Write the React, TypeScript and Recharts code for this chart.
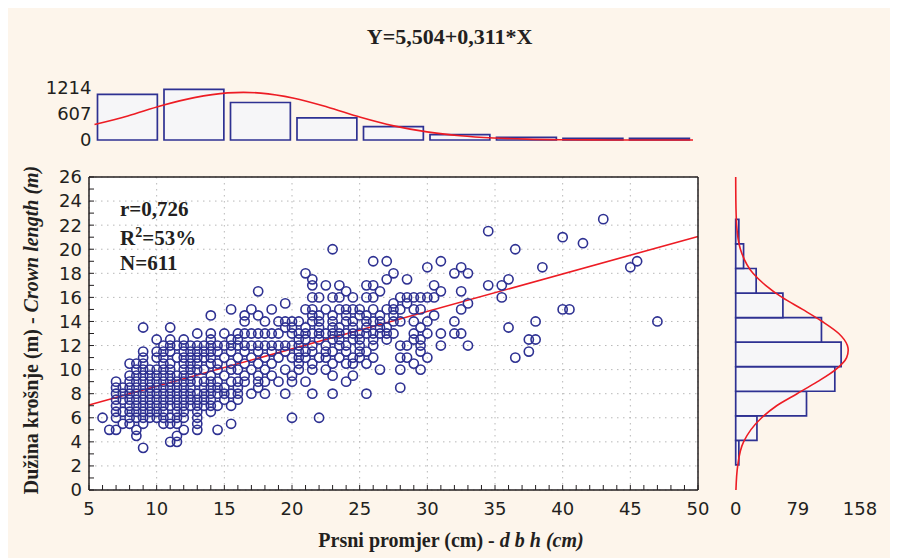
import React from 'react';
import { Bar, CartesianGrid, ComposedChart, Line, Scatter, XAxis, YAxis } from 'recharts';

// scatter: one row per crown length (m), listing the dbh values (cm) seen on that row
const crownRows: [number, number[]][] = [
  [22.5, [43]],
  [21.5, [34.5]],
  [21, [40]],
  [20.5, [41.5]],
  [20, [23, 36.5]],
  [19, [26, 27, 31, 45.5]],
  [18.5, [30, 32.5, 38.5, 45]],
  [18, [21, 27.5, 32, 33]],
  [17.5, [21.5, 27, 28.5, 36]],
  [17, [21.5, 22.5, 23.5, 25.5, 26, 30.5, 34.5, 35.5]],
  [16.5, [17.5, 24, 26.5, 31, 32.5]],
  [16, [21.5, 22, 23, 23.5, 24.5, 25.5, 26, 28, 28.5, 29, 29.5, 30, 30.5, 35.5]],
  [15.5, [19.5, 27.5, 28.5, 33]],
  [15, [15.5, 17, 18.5, 21, 21.5, 22.5, 23.5, 24, 24.5, 25, 26, 27, 27.5, 28, 29, 29.5, 32.5, 40, 40.5]],
  [14.5, [14, 16.5, 17.5, 21.5, 22, 23, 24, 25, 25.5, 26.5, 27.5, 30.5]],
  [14, [16.5, 18, 19, 19.5, 20, 20.5, 21.5, 22, 23, 24, 24.5, 25.5, 26, 26.5, 27.5, 28, 29, 30, 32, 38, 47]],
  [13.5, [9, 11, 19.5, 20, 21, 22, 23, 23.5, 24.5, 25.5, 26.5, 27, 29.5, 36]],
  [13, [13, 14, 15, 16, 16.5, 17, 17.5, 18, 18.5, 19, 20, 20.5, 21, 21.5, 22, 22.5, 23, 23.5, 24, 24.5, 25, 25.5, 26, 26.5, 27, 27.5, 29, 30, 31, 32, 32.5]],
  [12.5, [10, 11, 12, 14, 15.5, 16, 20.5, 21, 22, 23, 23.5, 24.5, 25, 26, 27, 29, 29.5, 37.5, 38]],
  [12, [10.5, 11, 11.5, 12, 12.5, 13, 13.5, 14, 14.5, 15, 15.5, 16, 16.5, 17, 17.5, 18, 18.5, 19, 19.5, 20, 20.5, 21.5, 22.5, 23.5, 24, 25, 26, 28, 28.5, 29.5, 31, 33]],
  [11.5, [9, 10, 10.5, 11, 12, 12.5, 13, 13.5, 14, 14.5, 15.5, 16.5, 17.5, 18.5, 19.5, 20.5, 21, 21.5, 22.5, 23, 24, 25, 25.5, 29.5, 37.5]],
  [11, [9, 10, 10.5, 11.5, 12, 12.5, 13, 13.5, 14, 15, 16, 17, 18, 19, 20, 20.5, 21, 22, 22.5, 23.5, 24.5, 25, 26, 28, 28.5, 30, 36.5]],
  [10.5, [8, 8.5, 9, 10.5, 11, 12, 12.5, 13, 14, 14.5, 15.5, 16.5, 17.5, 18.5, 20.5, 21.5, 23, 24, 24.5, 25.5, 29]],
  [10, [8.5, 9, 9.5, 10, 10.5, 11, 12, 12.5, 13, 13.5, 14.5, 15.5, 16, 17, 18, 19.5, 20.5, 21.5, 22.5, 26.5, 28, 29.5]],
  [9.5, [8, 8.5, 9, 9.5, 10, 10.5, 11, 11.5, 12, 12.5, 14, 15, 16.5, 17.5, 18.5, 20, 23, 24.5]],
  [9, [7, 8, 8.5, 9, 9.5, 10, 10.5, 11, 11.5, 12, 12.5, 13, 13.5, 14, 14.5, 15.5, 16, 16.5, 17.5, 18, 19, 20, 21, 24]],
  [8.5, [7, 7.5, 8, 8.5, 9, 9.5, 10, 10.5, 11, 11.5, 12, 12.5, 13.5, 14, 14.5, 15, 16, 17.5, 28]],
  [8, [7, 7.5, 8, 8.5, 9, 9.5, 10, 10.5, 11, 11.5, 12, 12.5, 13, 13.5, 14, 14.5, 15, 15.5, 16, 17, 18, 19.5, 21.5, 23, 25.5]],
  [7.5, [7, 7.5, 8, 8.5, 9, 9.5, 10, 10.5, 11, 11.5, 12, 12.5, 13, 13.5, 14, 15, 16]],
  [7, [7, 8, 8.5, 9, 9.5, 10, 10.5, 11, 11.5, 12, 12.5, 13, 13.5, 14, 14.5, 15.5]],
  [6.5, [7, 7.5, 8, 8.5, 9, 9.5, 10, 10.5, 11.5, 12, 13, 14]],
  [6, [6, 7, 8, 8.5, 9, 9.5, 10, 10.5, 11, 11.5, 12, 13, 20, 22]],
  [5.5, [7.5, 8, 9, 10.5, 11, 11.5, 13, 15.5]],
  [5, [6.5, 7, 8.5, 12, 13, 14.5]],
  [4.5, [8.5, 11.5]],
  [4, [11, 11.5]],
  [3.5, [9]],
];

// regression line Y = 5,504 + 0,311*X read at the frame edges
const fitX = [5, 50];
const fitY = [7.06, 21.06];

// top histogram (dbh)
const topBinCenters = [7.5, 12.5, 17.5, 22.5, 27.5, 32.5, 37.5, 42.5, 47.5];
const topBinCounts = [1064, 1181, 876, 517, 312, 124, 63, 40, 40];
const topCurveX = [5, 7.5, 10, 12.5, 15, 16.2, 17.5, 20, 22.5, 25, 27.5, 30, 32.5, 35, 37.5, 40, 42.5, 45, 47.5, 50];
const topCurveN = [360, 560, 800, 990, 1100, 1113, 1095, 975, 770, 530, 330, 190, 100, 48, 20, 7, 2, 0, 0, 0];
const topTicks = [0, 607, 1214];

// right histogram (crown length)
const rightBinCenters = [3.1, 5.14, 7.18, 9.22, 11.26, 13.3, 15.34, 17.38, 19.42, 21.46];
const rightBinCounts = [4, 27, 90, 126, 134, 109, 60, 26, 10, 4];
const rightCurveY = [0, 2, 4, 6, 7, 8, 9, 10, 11, 11.6, 12, 13, 14, 15, 16, 17, 18, 20, 22, 24, 26];
const rightCurveN = [0.3, 2.5, 10, 33, 52, 78, 104, 127, 141, 143, 142, 131, 110, 85, 59, 38, 22, 6, 1.2, 0.2, 0];
const rightTicks = [0, 79, 158];

const xMajor = [5, 10, 15, 20, 25, 30, 35, 40, 45, 50];
const yMajor = [0, 2, 4, 6, 8, 10, 12, 14, 16, 18, 20, 22, 24, 26];
const xMinor = Array.from({ length: 46 }, (_, i) => 5 + i);
const yMinor = Array.from({ length: 27 }, (_, i) => i);

const points = crownRows.flatMap(([y, xs]) => xs.map((x) => ({ x, y })));
const fitLine = fitX.map((x, i) => ({ x, y: fitY[i] }));
const topBins = topBinCenters.map((x, i) => ({ x, count: topBinCounts[i] }));
const topCurve = topCurveX.map((x, i) => ({ x, n: topCurveN[i] }));
const rightBins = rightBinCenters.map((y, i) => ({ y, count: rightBinCounts[i] }));
const rightCurve = rightCurveY.map((y, i) => ({ y, n: rightCurveN[i] }));

const navy = '#2e3192';
const red = '#ed1c24';
const frame = '#231f20';
const tickFont = { fontFamily: 'DejaVu Sans', fontSize: 18, fill: '#231f20' };
const serif = 'Liberation Serif, Times New Roman, serif';

const Ring = (p: any) => (
  <circle cx={p.cx} cy={p.cy} r={4.6} fill="none" stroke={navy} strokeWidth={1.6} />
);

const abs: React.CSSProperties = { position: 'absolute', left: 0, top: 0 };

export default function App() {
  return (
    <div style={{ position: 'relative', width: 890, height: 550, background: '#fdf5eb' }}>
      {/* top histogram */}
      <ComposedChart
        width={890}
        height={150}
        data={topBins}
        barCategoryGap={0}
        margin={{ top: 80, right: 205, bottom: 18, left: 0 }}
        style={abs}
      >
        <XAxis xAxisId="bins" dataKey="x" type="number" domain={[5, 50]} ticks={topBinCenters} hide />
        <XAxis xAxisId="curve" dataKey="x" type="number" domain={[5, 50]} hide />
        <YAxis
          type="number"
          domain={[0, 1214]}
          ticks={topTicks}
          interval={0}
          width={86.5}
          axisLine={false}
          tickLine={false}
          tickSize={0}
          tickMargin={3}
          tick={tickFont}
        />
        <Bar xAxisId="bins" dataKey="count" barSize={66.5} fill="#f6f6f8" stroke={navy} strokeWidth={1.7} isAnimationActive={false} />
        <Line xAxisId="curve" data={topCurve} dataKey="n" type="monotone" stroke={red} strokeWidth={1.6} dot={false} isAnimationActive={false} />
      </ComposedChart>

      {/* right histogram */}
      <ComposedChart
        layout="vertical"
        width={890}
        height={550}
        data={rightBins}
        barCategoryGap={0}
        margin={{ top: 169, right: 38, bottom: 0, left: 727.7 }}
        style={abs}
      >
        <XAxis
          type="number"
          domain={[0, 158]}
          ticks={rightTicks}
          interval={0}
          height={68}
          axisLine={false}
          tickLine={false}
          tickSize={0}
          tickMargin={12}
          tick={tickFont}
        />
        <YAxis yAxisId="bins" dataKey="y" type="number" domain={[0, 26]} ticks={rightBinCenters} reversed hide />
        <YAxis yAxisId="curve" dataKey="y" type="number" domain={[0, 26]} reversed hide />
        <Bar yAxisId="bins" dataKey="count" barSize={24.5} fill="#f6f6f8" stroke={navy} strokeWidth={1.7} isAnimationActive={false} />
        <Line yAxisId="curve" data={rightCurve} dataKey="n" type="monotone" stroke={red} strokeWidth={1.6} dot={false} isAnimationActive={false} />
      </ComposedChart>

      {/* main scatter */}
      <ComposedChart width={890} height={550} margin={{ top: 168, right: 199, bottom: 0, left: 0 }} style={abs}>
        <CartesianGrid
          xAxisId="b"
          yAxisId="l"
          fill="#ffffff"
          stroke="#b8b8b8"
          strokeDasharray="1.5 4.5"
          horizontalValues={yMajor}
          verticalValues={xMajor}
        />
        <XAxis
          xAxisId="b"
          dataKey="x"
          type="number"
          domain={[5, 50]}
          ticks={xMinor}
          interval={0}
          height={68}
          tickSize={-5}
          tickMargin={17}
          tick={tickFont}
          tickFormatter={(v: number) => (v % 5 === 0 ? String(v) : '')}
          axisLine={{ stroke: frame, strokeWidth: 1.5 }}
          tickLine={{ stroke: frame }}
        />
        <XAxis
          xAxisId="t"
          orientation="top"
          type="number"
          domain={[5, 50]}
          ticks={xMinor}
          interval={0}
          height={1}
          tickSize={-5}
          tick={false}
          axisLine={{ stroke: frame, strokeWidth: 1.5 }}
          tickLine={{ stroke: frame }}
        />
        <YAxis
          yAxisId="l"
          dataKey="y"
          type="number"
          domain={[0, 26]}
          ticks={yMinor}
          interval={0}
          width={81}
          tickSize={-5}
          tickMargin={12}
          tick={tickFont}
          tickFormatter={(v: number) => (v % 2 === 0 ? String(v) : '')}
          axisLine={{ stroke: frame, strokeWidth: 1.5 }}
          tickLine={{ stroke: frame }}
        />
        <YAxis
          yAxisId="r"
          orientation="right"
          type="number"
          domain={[0, 26]}
          ticks={yMinor}
          interval={0}
          width={1}
          tickSize={-5}
          tick={false}
          axisLine={{ stroke: frame, strokeWidth: 1.5 }}
          tickLine={{ stroke: frame }}
        />
        <Scatter xAxisId="b" yAxisId="l" data={points} shape={Ring} isAnimationActive={false} />
        <Line xAxisId="b" yAxisId="l" data={fitLine} dataKey="y" type="linear" stroke={red} strokeWidth={1.6} dot={false} isAnimationActive={false} />
      </ComposedChart>

      {/* titles and statistics */}
      <svg width={890} height={550} style={{ ...abs, pointerEvents: 'none' }}>
        <text x={441.6} y={36} textAnchor="middle" fontFamily={serif} fontWeight="bold" fontSize={22} fill={frame}>
          Y=5,504+0,311*X
        </text>
        <g fontFamily={serif} fontWeight="bold" fontSize={21} fill={frame}>
          <text x={112} y={208}>r=0,726</text>
          <text x={112} y={237}>
            R<tspan dy={-8} fontSize={14}>2</tspan>
            <tspan dy={8}>=53%</tspan>
          </text>
          <text x={112} y={262}>N=611</text>
        </g>
        <text x={443} y={539} textAnchor="middle" fontFamily={serif} fontWeight="bold" fontSize={20} fill={frame}>
          Prsni promjer (cm) - <tspan fontStyle="italic">d b h (cm)</tspan>
        </text>
        <text
          transform="translate(30,322) rotate(-90)"
          textAnchor="middle"
          fontFamily={serif}
          fontWeight="bold"
          fontSize={20}
          fill={frame}
        >
          Dužina krošnje (m) - <tspan fontStyle="italic">Crown length (m)</tspan>
        </text>
      </svg>
    </div>
  );
}
